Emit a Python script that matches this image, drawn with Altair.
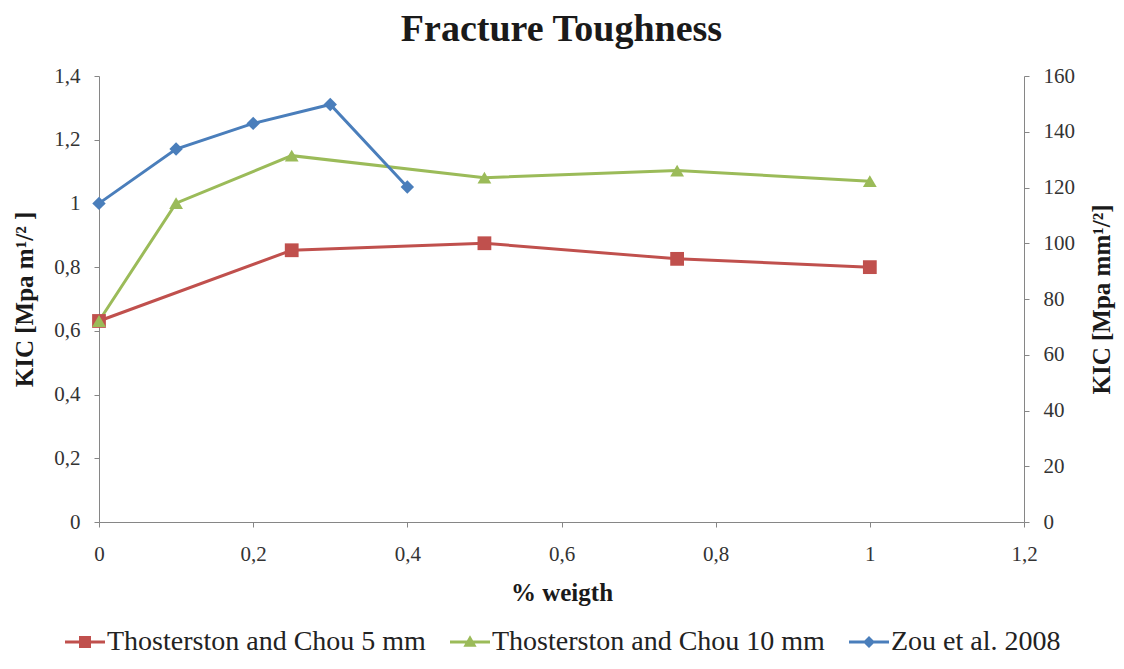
import altair as alt
import pandas as pd

S5 = "Thosterston and Chou 5 mm"
S10 = "Thosterston and Chou 10 mm"
ZOU = "Zou et al. 2008"

x_5mm = [0, 0.25, 0.5, 0.75, 1.0]
k_5mm = [0.631, 0.853, 0.875, 0.826, 0.800]

x_10mm = [0, 0.1, 0.25, 0.5, 0.75, 1.0]
k_10mm = [0.631, 1.001, 1.150, 1.081, 1.103, 1.070]

x_zou = [0, 0.1, 0.2, 0.3, 0.4]
k_zou = [114.3, 133.8, 143.0, 149.8, 120.2]  # right axis, Mpa mm^1/2

x_ticks = [0, 0.2, 0.4, 0.6, 0.8, 1.0, 1.2]
yl_ticks = [0, 0.2, 0.4, 0.6, 0.8, 1.0, 1.2, 1.4]
yr_ticks = [0, 20, 40, 60, 80, 100, 120, 140, 160]

series = [S5, S10, ZOU]
colors = ["#C0504D", "#9BBB59", "#4A7EBB"]
C5, C10, CZ = colors

FONT = "Liberation Serif"
COMMA = "replace(toString(datum.value), '.', ',')"

left_df = pd.DataFrame({
    "x": x_5mm + x_10mm,
    "k": k_5mm + k_10mm,
    "series": [S5] * len(x_5mm) + [S10] * len(x_10mm),
})
d5 = pd.DataFrame({"x": x_5mm, "k": k_5mm})
d10 = pd.DataFrame({"x": x_10mm, "k": k_10mm})
zou_df = pd.DataFrame({"x": x_zou, "k": k_zou})

xenc = alt.X("x:Q", scale=alt.Scale(domain=[0, 1.2], nice=False),
             axis=alt.Axis(values=x_ticks, title="% weigth", labelExpr=COMMA, labelFlush=False))

yleft = alt.Y("k:Q", scale=alt.Scale(domain=[0, 1.4], nice=False),
              axis=alt.Axis(orient="left", values=yl_ticks, title="KIC [Mpa m¹/² ]",
                            labelExpr=COMMA, labelFlush=False))
yright = alt.Y("k:Q", scale=alt.Scale(domain=[0, 160], nice=False),
               axis=alt.Axis(orient="right", values=yr_ticks, title="KIC [Mpa mm¹/²]",
                             titleAngle=270, labelFlush=False))

# legend-only layer (invisible marks) with line + marker glyphs
leg_paths = [
    "M-1,-0.075H1V0.075H-1Z M-0.3,-0.3H0.3V0.3H-0.3Z",
    "M-1,-0.075H1V0.075H-1Z M0,-0.34L0.33,0.24H-0.33Z",
    "M-1,-0.075H1V0.075H-1Z M0,-0.3L0.3,0L0,0.3L-0.3,0Z",
]
leg = alt.Legend(title=None, orient="none", direction="horizontal", legendX=-34, legendY=546,
                 symbolSize=1600, symbolStrokeWidth=0, symbolOpacity=1,
                 labelFont=FONT, labelFontSize=28, labelColor="#222222", labelLimit=500,
                 columnPadding=24, labelOffset=2)
legend_layer = alt.Chart(left_df).mark_point(filled=True, opacity=0).encode(
    x=xenc, y=yleft,
    color=alt.Color("series:N", scale=alt.Scale(domain=series, range=colors), legend=leg),
    shape=alt.Shape("series:N", scale=alt.Scale(domain=series, range=leg_paths), legend=leg),
)

line_5 = alt.Chart(d5).mark_line(strokeWidth=3, color=C5).encode(x=xenc, y=yleft)
pts_5 = alt.Chart(d5).mark_point(shape="square", filled=True, size=190, opacity=1, color=C5).encode(
    x=xenc, y=yleft)
line_10 = alt.Chart(d10).mark_line(strokeWidth=3, color=C10).encode(x=xenc, y=yleft)
pts_10 = alt.Chart(d10).mark_point(shape="triangle-up", filled=True, size=190, opacity=1, color=C10).encode(
    x=xenc, y=yleft)

left = alt.layer(legend_layer, line_5, line_10, pts_5, pts_10)

line_zou = alt.Chart(zou_df).mark_line(strokeWidth=3, color=CZ).encode(x=xenc, y=yright)
pts_zou = alt.Chart(zou_df).mark_point(shape="diamond", filled=True, size=180, opacity=1, color=CZ).encode(
    x=xenc, y=yright)
right = alt.layer(line_zou, pts_zou)

chart = alt.layer(left, right).resolve_scale(y="independent").properties(
    width=925, height=446,
    autosize=alt.AutoSizeParams(type="none"),
    padding={"left": 91, "top": 68, "right": 92, "bottom": 136},
    title=alt.TitleParams("Fracture Toughness", font=FONT, fontSize=38, fontWeight="bold",
                          color="#1a1a1a", anchor="middle", offset=16),
).configure_view(stroke=None).configure_axis(
    grid=False, domainColor="#868686", tickColor="#868686", tickSize=5,
    labelFont=FONT, labelFontSize=21, labelColor="#333333", labelPadding=14,
    titleFont=FONT, titleFontSize=25, titleFontWeight="bold", titleColor="#1a1a1a",
).configure_axisX(labelPadding=16, titlePadding=16).configure_axisLeft(titlePadding=16
).configure_axisRight(titlePadding=40)

chart.save("out.html", embed_options={"renderer": "svg", "actions": False})
